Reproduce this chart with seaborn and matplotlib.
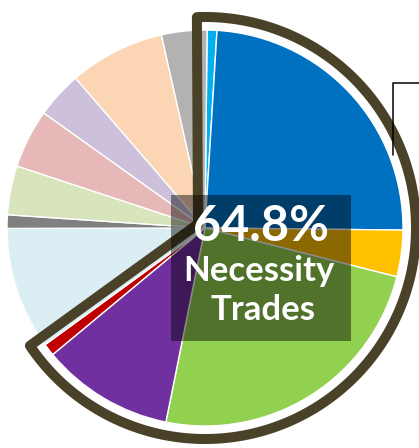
import numpy as np
import matplotlib
matplotlib.use("Agg")
import matplotlib.pyplot as plt
import seaborn as sns
from matplotlib.patches import Rectangle, Polygon
from matplotlib.lines import Line2D

# ---- data (shares of trades, %, clockwise from 12 o'clock) ----
categories = ["Trade 1", "Trade 2", "Trade 3", "Trade 4", "Trade 5", "Trade 6",
              "Trade 7", "Trade 8", "Trade 9", "Trade 10", "Trade 11", "Trade 12", "Trade 13"]
shares = [0.8, 24.2, 3.8, 24.2, 10.8, 1.0,
          10.0, 1.1, 4.0, 4.8, 3.8, 7.8, 3.7]
necessity = [True, True, True, True, True, True,
             False, False, False, False, False, False, False]
colors = ["#00B0F0", "#0070C0", "#FFC000", "#92D050", "#7030A0", "#C00000",
          "#DAEEF3", "#808080", "#D8E4BC", "#E6B9B8", "#CCC0DA", "#FCD5B5", "#B2B2B2"]
headline = "64.8%"
caption = ["Necessity", "Trades"]

sns.set_theme(style="white")
plt.rcParams["font.family"] = ["Lato", "DejaVu Sans"]

W, H = 419, 448
CX, CY, R = 205.0, 228.0, 198.0


def P(px, py):
    return ((px - CX) / R, (CY - py) / R)


fig = plt.figure(figsize=(W / 100, H / 100), dpi=100)
ax = fig.add_axes([0, 0, 1, 1])

start_offset = 0.6  # degrees clockwise from top where the first wedge starts
ax.pie(shares, colors=colors, startangle=90 - start_offset, counterclock=False,
       radius=1.0, center=(0, 0),
       wedgeprops=dict(edgecolor="white", linewidth=1.0))

ax.set_xlim(P(0, 0)[0], P(W, 0)[0])
ax.set_ylim(P(0, H)[1], P(0, 0)[1])
ax.set_aspect("auto")
ax.axis("off")

# outline around the necessity wedges
nec_total = sum(s for s, n in zip(shares, necessity) if n)
a0 = start_offset - 2.8
a1 = start_offset + nec_total / 100 * 360 + 2.2
r_out = 211.0
angs = np.radians(np.linspace(a0, a1, 300))
pts = [P(CX + r_out * np.sin(a), CY - r_out * np.cos(a)) for a in angs]
pts.append(P(198, 224))
outline = Polygon(pts, closed=True, fill=False, edgecolor="#4A4228",
                  linewidth=7.2, joinstyle="round", zorder=3)
ax.add_patch(outline)

# dark translucent label box
x0, y0 = P(171, 341)
x1, y1 = P(351, 195)
ax.add_patch(Rectangle((x0, y0), x1 - x0, y1 - y0, facecolor="black",
                       alpha=0.45, edgecolor="none", zorder=4))

ax.text(*P(261, 241), headline, color="white", fontsize=35, fontweight="bold",
        ha="center", va="baseline", zorder=5)
ax.text(*P(259, 281), caption[0], color="white", fontsize=25, fontweight="bold",
        ha="center", va="baseline", zorder=5)
ax.text(*P(263, 320), caption[1], color="white", fontsize=25, fontweight="bold",
        ha="center", va="baseline", zorder=5)

# callout line at top right
lx, ly = P(393, 155)
mx, my = P(393, 83)
ex, ey = P(419, 83)
ax.add_line(Line2D([lx, mx, ex], [ly, my, ey], color="black", linewidth=1.1,
                   zorder=6))

fig.savefig("out.png", dpi=100)
